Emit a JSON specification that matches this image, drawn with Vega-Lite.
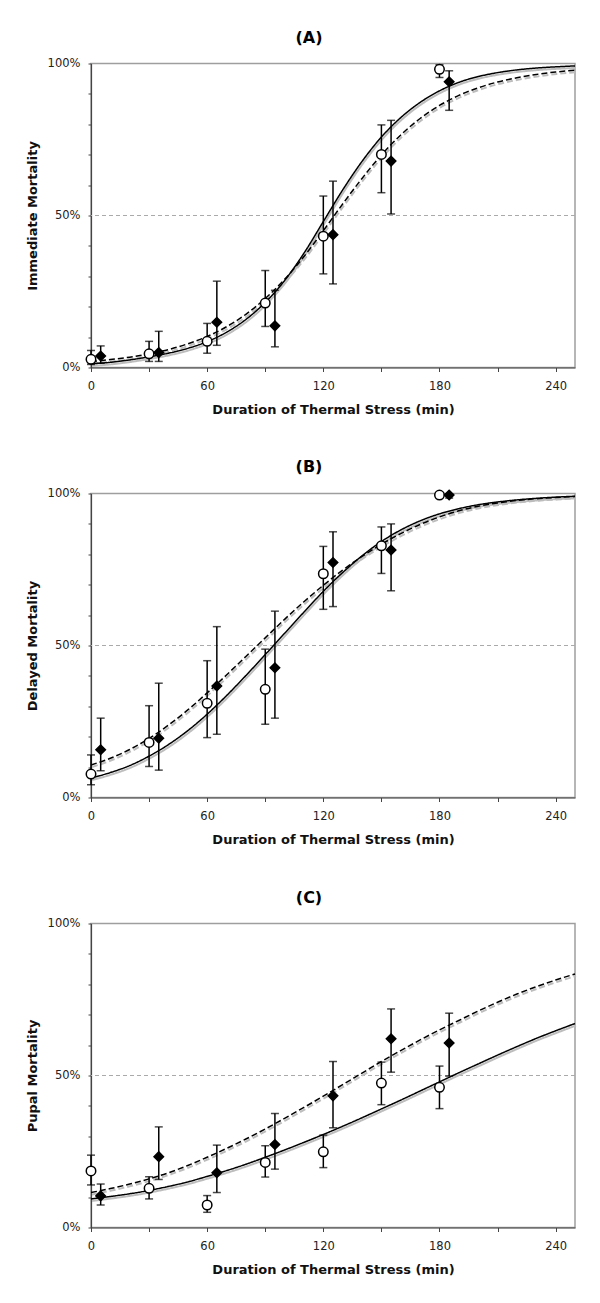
{
  "$schema": "https://vega.github.io/schema/vega-lite/v6.json",
  "padding": {"left": 25, "top": 28.5, "right": 20, "bottom": 10},
  "background": "white",
  "datasets": {
    "pts": [
      {"p":"A","g":"open","x":0,"y":2.7,"lo":1.0,"hi":5.6},
      {"p":"A","g":"open","x":30,"y":4.5,"lo":2.0,"hi":8.6},
      {"p":"A","g":"open","x":60,"y":8.6,"lo":4.7,"hi":14.5},
      {"p":"A","g":"open","x":90,"y":21.2,"lo":13.5,"hi":31.9},
      {"p":"A","g":"open","x":120,"y":43.2,"lo":30.8,"hi":56.4},
      {"p":"A","g":"open","x":150,"y":70.1,"lo":57.5,"hi":79.8},
      {"p":"A","g":"open","x":180,"y":98.1,"lo":95.4,"hi":99.6},
      {"p":"A","g":"filled","x":5,"y":3.8,"lo":1.4,"hi":7.1},
      {"p":"A","g":"filled","x":35,"y":4.9,"lo":2.0,"hi":11.9},
      {"p":"A","g":"filled","x":65,"y":14.9,"lo":7.3,"hi":28.4},
      {"p":"A","g":"filled","x":95,"y":13.7,"lo":6.8,"hi":25.4},
      {"p":"A","g":"filled","x":125,"y":43.7,"lo":27.5,"hi":61.3},
      {"p":"A","g":"filled","x":155,"y":67.9,"lo":50.5,"hi":81.3},
      {"p":"A","g":"filled","x":185,"y":94.0,"lo":84.6,"hi":97.6},
      {"p":"B","g":"open","x":0,"y":7.7,"lo":4.2,"hi":14.0},
      {"p":"B","g":"open","x":30,"y":18.1,"lo":10.2,"hi":30.2},
      {"p":"B","g":"open","x":60,"y":31.0,"lo":19.7,"hi":45.0},
      {"p":"B","g":"open","x":90,"y":35.6,"lo":24.1,"hi":48.8},
      {"p":"B","g":"open","x":120,"y":73.6,"lo":61.9,"hi":82.6},
      {"p":"B","g":"open","x":150,"y":82.8,"lo":73.7,"hi":89.0},
      {"p":"B","g":"open","x":180,"y":99.5,"lo":99.0,"hi":99.9},
      {"p":"B","g":"filled","x":5,"y":15.7,"lo":8.8,"hi":26.1},
      {"p":"B","g":"filled","x":35,"y":19.5,"lo":9.0,"hi":37.6},
      {"p":"B","g":"filled","x":65,"y":36.7,"lo":20.8,"hi":56.2},
      {"p":"B","g":"filled","x":95,"y":42.7,"lo":26.1,"hi":61.3},
      {"p":"B","g":"filled","x":125,"y":77.3,"lo":62.8,"hi":87.4},
      {"p":"B","g":"filled","x":155,"y":81.4,"lo":68.0,"hi":90.0},
      {"p":"B","g":"filled","x":185,"y":99.5,"lo":98.5,"hi":99.9},
      {"p":"C","g":"open","x":0,"y":18.6,"lo":14.0,"hi":23.8},
      {"p":"C","g":"open","x":30,"y":12.9,"lo":9.4,"hi":16.7},
      {"p":"C","g":"open","x":60,"y":7.4,"lo":5.0,"hi":10.5},
      {"p":"C","g":"open","x":90,"y":21.4,"lo":16.6,"hi":26.9},
      {"p":"C","g":"open","x":120,"y":24.9,"lo":19.7,"hi":30.4},
      {"p":"C","g":"open","x":150,"y":47.5,"lo":40.4,"hi":54.4},
      {"p":"C","g":"open","x":180,"y":46.1,"lo":39.1,"hi":53.1},
      {"p":"C","g":"filled","x":5,"y":10.4,"lo":7.4,"hi":14.3},
      {"p":"C","g":"filled","x":35,"y":23.3,"lo":15.8,"hi":33.1},
      {"p":"C","g":"filled","x":65,"y":18.0,"lo":11.5,"hi":27.1},
      {"p":"C","g":"filled","x":95,"y":27.3,"lo":19.2,"hi":37.5},
      {"p":"C","g":"filled","x":125,"y":43.3,"lo":32.8,"hi":54.6},
      {"p":"C","g":"filled","x":155,"y":62.1,"lo":51.1,"hi":71.9},
      {"p":"C","g":"filled","x":185,"y":60.7,"lo":49.8,"hi":70.5}
    ],
    "curves": [
      {"p":"A","m":"solid","x":0,"y":1.2},{"p":"A","m":"solid","x":10,"y":1.7},{"p":"A","m":"solid","x":20,"y":2.5},{"p":"A","m":"solid","x":30,"y":3.5},{"p":"A","m":"solid","x":40,"y":4.7},{"p":"A","m":"solid","x":50,"y":6.3},{"p":"A","m":"solid","x":60,"y":8.5},{"p":"A","m":"solid","x":70,"y":11.6},{"p":"A","m":"solid","x":80,"y":15.8},{"p":"A","m":"solid","x":90,"y":21.4},{"p":"A","m":"solid","x":100,"y":28.6},{"p":"A","m":"solid","x":110,"y":37.6},{"p":"A","m":"solid","x":120,"y":48.0},{"p":"A","m":"solid","x":130,"y":58.4},{"p":"A","m":"solid","x":140,"y":67.8},{"p":"A","m":"solid","x":150,"y":75.8},{"p":"A","m":"solid","x":160,"y":82.2},{"p":"A","m":"solid","x":170,"y":87.2},{"p":"A","m":"solid","x":180,"y":91.0},{"p":"A","m":"solid","x":190,"y":93.8},{"p":"A","m":"solid","x":200,"y":95.7},{"p":"A","m":"solid","x":210,"y":97.0},{"p":"A","m":"solid","x":220,"y":97.9},{"p":"A","m":"solid","x":230,"y":98.5},{"p":"A","m":"solid","x":240,"y":98.9},{"p":"A","m":"solid","x":250,"y":99.2},
      {"p":"A","m":"dashed","x":0,"y":2.0},{"p":"A","m":"dashed","x":10,"y":2.6},{"p":"A","m":"dashed","x":20,"y":3.4},{"p":"A","m":"dashed","x":30,"y":4.5},{"p":"A","m":"dashed","x":40,"y":5.9},{"p":"A","m":"dashed","x":50,"y":7.8},{"p":"A","m":"dashed","x":60,"y":10.2},{"p":"A","m":"dashed","x":70,"y":13.4},{"p":"A","m":"dashed","x":80,"y":17.5},{"p":"A","m":"dashed","x":90,"y":22.7},{"p":"A","m":"dashed","x":100,"y":29.0},{"p":"A","m":"dashed","x":110,"y":36.5},{"p":"A","m":"dashed","x":120,"y":45.0},{"p":"A","m":"dashed","x":130,"y":53.8},{"p":"A","m":"dashed","x":140,"y":62.2},{"p":"A","m":"dashed","x":150,"y":69.9},{"p":"A","m":"dashed","x":160,"y":76.5},{"p":"A","m":"dashed","x":170,"y":81.9},{"p":"A","m":"dashed","x":180,"y":86.2},{"p":"A","m":"dashed","x":190,"y":89.5},{"p":"A","m":"dashed","x":200,"y":92.0},{"p":"A","m":"dashed","x":210,"y":93.9},{"p":"A","m":"dashed","x":220,"y":95.3},{"p":"A","m":"dashed","x":230,"y":96.4},{"p":"A","m":"dashed","x":240,"y":97.2},{"p":"A","m":"dashed","x":250,"y":97.8},
      {"p":"B","m":"solid","x":0,"y":6.4},{"p":"B","m":"solid","x":10,"y":8.2},{"p":"B","m":"solid","x":20,"y":10.5},{"p":"B","m":"solid","x":30,"y":13.6},{"p":"B","m":"solid","x":40,"y":17.4},{"p":"B","m":"solid","x":50,"y":22.0},{"p":"B","m":"solid","x":60,"y":27.4},{"p":"B","m":"solid","x":70,"y":33.5},{"p":"B","m":"solid","x":80,"y":40.1},{"p":"B","m":"solid","x":90,"y":47.0},{"p":"B","m":"solid","x":100,"y":54.0},{"p":"B","m":"solid","x":110,"y":61.0},{"p":"B","m":"solid","x":120,"y":67.8},{"p":"B","m":"solid","x":130,"y":74.0},{"p":"B","m":"solid","x":140,"y":79.5},{"p":"B","m":"solid","x":150,"y":84.2},{"p":"B","m":"solid","x":160,"y":88.0},{"p":"B","m":"solid","x":170,"y":91.0},{"p":"B","m":"solid","x":180,"y":93.3},{"p":"B","m":"solid","x":190,"y":95.0},{"p":"B","m":"solid","x":200,"y":96.3},{"p":"B","m":"solid","x":210,"y":97.2},{"p":"B","m":"solid","x":220,"y":97.9},{"p":"B","m":"solid","x":230,"y":98.4},{"p":"B","m":"solid","x":240,"y":98.8},{"p":"B","m":"solid","x":250,"y":99.1},
      {"p":"B","m":"dashed","x":0,"y":10.7},{"p":"B","m":"dashed","x":10,"y":12.9},{"p":"B","m":"dashed","x":20,"y":15.8},{"p":"B","m":"dashed","x":30,"y":19.4},{"p":"B","m":"dashed","x":40,"y":23.8},{"p":"B","m":"dashed","x":50,"y":28.8},{"p":"B","m":"dashed","x":60,"y":34.4},{"p":"B","m":"dashed","x":70,"y":40.3},{"p":"B","m":"dashed","x":80,"y":46.4},{"p":"B","m":"dashed","x":90,"y":52.5},{"p":"B","m":"dashed","x":100,"y":58.6},{"p":"B","m":"dashed","x":110,"y":64.4},{"p":"B","m":"dashed","x":120,"y":69.8},{"p":"B","m":"dashed","x":130,"y":74.8},{"p":"B","m":"dashed","x":140,"y":79.3},{"p":"B","m":"dashed","x":150,"y":83.3},{"p":"B","m":"dashed","x":160,"y":86.8},{"p":"B","m":"dashed","x":170,"y":89.8},{"p":"B","m":"dashed","x":180,"y":92.3},{"p":"B","m":"dashed","x":190,"y":94.3},{"p":"B","m":"dashed","x":200,"y":95.8},{"p":"B","m":"dashed","x":210,"y":96.9},{"p":"B","m":"dashed","x":220,"y":97.7},{"p":"B","m":"dashed","x":230,"y":98.3},{"p":"B","m":"dashed","x":240,"y":98.7},{"p":"B","m":"dashed","x":250,"y":99.0},
      {"p":"C","m":"solid","x":0,"y":9.4},{"p":"C","m":"solid","x":10,"y":10.2},{"p":"C","m":"solid","x":20,"y":11.1},{"p":"C","m":"solid","x":30,"y":12.2},{"p":"C","m":"solid","x":40,"y":13.5},{"p":"C","m":"solid","x":50,"y":15.0},{"p":"C","m":"solid","x":60,"y":16.8},{"p":"C","m":"solid","x":70,"y":18.7},{"p":"C","m":"solid","x":80,"y":20.8},{"p":"C","m":"solid","x":90,"y":23.1},{"p":"C","m":"solid","x":100,"y":25.5},{"p":"C","m":"solid","x":110,"y":28.0},{"p":"C","m":"solid","x":120,"y":30.6},{"p":"C","m":"solid","x":130,"y":33.3},{"p":"C","m":"solid","x":140,"y":36.1},{"p":"C","m":"solid","x":150,"y":39.0},{"p":"C","m":"solid","x":160,"y":41.9},{"p":"C","m":"solid","x":170,"y":44.9},{"p":"C","m":"solid","x":180,"y":47.9},{"p":"C","m":"solid","x":190,"y":50.9},{"p":"C","m":"solid","x":200,"y":53.8},{"p":"C","m":"solid","x":210,"y":56.7},{"p":"C","m":"solid","x":220,"y":59.5},{"p":"C","m":"solid","x":230,"y":62.2},{"p":"C","m":"solid","x":240,"y":64.7},{"p":"C","m":"solid","x":250,"y":67.1},
      {"p":"C","m":"dashed","x":0,"y":11.5},{"p":"C","m":"dashed","x":10,"y":12.8},{"p":"C","m":"dashed","x":20,"y":14.3},{"p":"C","m":"dashed","x":30,"y":16.0},{"p":"C","m":"dashed","x":40,"y":18.0},{"p":"C","m":"dashed","x":50,"y":20.4},{"p":"C","m":"dashed","x":60,"y":23.1},{"p":"C","m":"dashed","x":70,"y":26.0},{"p":"C","m":"dashed","x":80,"y":29.1},{"p":"C","m":"dashed","x":90,"y":32.4},{"p":"C","m":"dashed","x":100,"y":35.9},{"p":"C","m":"dashed","x":110,"y":39.5},{"p":"C","m":"dashed","x":120,"y":43.2},{"p":"C","m":"dashed","x":130,"y":47.0},{"p":"C","m":"dashed","x":140,"y":50.8},{"p":"C","m":"dashed","x":150,"y":54.6},{"p":"C","m":"dashed","x":160,"y":58.2},{"p":"C","m":"dashed","x":170,"y":61.7},{"p":"C","m":"dashed","x":180,"y":65.0},{"p":"C","m":"dashed","x":190,"y":68.1},{"p":"C","m":"dashed","x":200,"y":71.2},{"p":"C","m":"dashed","x":210,"y":74.1},{"p":"C","m":"dashed","x":220,"y":76.8},{"p":"C","m":"dashed","x":230,"y":79.2},{"p":"C","m":"dashed","x":240,"y":81.4},{"p":"C","m":"dashed","x":250,"y":83.4}
    ]
  },
  "vconcat": [
    {
      "width": 484, "height": 304,
      "title": {"text": "(A)"},
      "layer": [
        {"data": {"values": [{}]}, "mark": {"type": "rule", "color": "#aaaaaa", "strokeWidth": 1, "strokeDash": [4, 3]},
         "encoding": {"y": {"datum": 50, "type": "quantitative", "scale": {"domain": [0, 100], "nice": false}, "axis": {"title": "Immediate Mortality", "values": [0,10,20,30,40,50,60,70,80,90,100], "labelExpr": "datum.value % 50 == 0 ? datum.value + '%' : ''"}}}},
        {"data": {"name": "curves"}, "transform": [{"filter": "datum.p == 'A'"}],
         "mark": {"type": "line", "color": "#bdbdbd", "strokeWidth": 2, "xOffset": 1, "yOffset": 2, "interpolate": "monotone"},
         "encoding": {
           "x": {"field": "x", "type": "quantitative", "scale": {"domain": [0, 250], "nice": false}, "axis": {"title": "Duration of Thermal Stress (min)", "values": [0,30,60,90,120,150,180,210,240], "labelExpr": "datum.value % 60 == 0 ? datum.label : ''"}},
           "y": {"field": "y", "type": "quantitative", "axis": {"title": "Immediate Mortality", "values": [0,10,20,30,40,50,60,70,80,90,100], "labelExpr": "datum.value % 50 == 0 ? datum.value + '%' : ''"}},
           "detail": {"field": "m"},
           "strokeDash": {"field": "m", "type": "nominal", "scale": {"domain": ["solid", "dashed"], "range": [[1, 0], [6, 3]]}, "legend": null}}},
        {"data": {"name": "curves"}, "transform": [{"filter": "datum.p == 'A'"}],
         "mark": {"type": "line", "color": "#000000", "strokeWidth": 1.5, "interpolate": "monotone"},
         "encoding": {
           "x": {"field": "x", "type": "quantitative", "axis": {"title": "Duration of Thermal Stress (min)", "values": [0,30,60,90,120,150,180,210,240], "labelExpr": "datum.value % 60 == 0 ? datum.label : ''"}},
           "y": {"field": "y", "type": "quantitative", "axis": {"title": "Immediate Mortality", "values": [0,10,20,30,40,50,60,70,80,90,100], "labelExpr": "datum.value % 50 == 0 ? datum.value + '%' : ''"}},
           "detail": {"field": "m"},
           "strokeDash": {"field": "m", "type": "nominal", "scale": {"domain": ["solid", "dashed"], "range": [[1, 0], [6, 3]]}, "legend": null}}},
        {"data": {"name": "pts"}, "transform": [{"filter": "datum.p == 'A'"}],
         "mark": {"type": "errorbar", "ticks": true, "size": 8, "thickness": 1.5, "color": "#000000"},
         "encoding": {
           "x": {"field": "x", "type": "quantitative", "axis": {"title": "Duration of Thermal Stress (min)", "values": [0,30,60,90,120,150,180,210,240], "labelExpr": "datum.value % 60 == 0 ? datum.label : ''"}},
           "y": {"field": "lo", "type": "quantitative", "axis": {"title": "Immediate Mortality", "values": [0,10,20,30,40,50,60,70,80,90,100], "labelExpr": "datum.value % 50 == 0 ? datum.value + '%' : ''"}},
           "y2": {"field": "hi"}}},
        {"data": {"name": "pts"}, "transform": [{"filter": "datum.p == 'A'"}],
         "mark": {"type": "point", "filled": false, "stroke": "#000000", "strokeWidth": 1.5, "opacity": 1, "size": 90},
         "encoding": {
           "x": {"field": "x", "type": "quantitative", "axis": {"title": "Duration of Thermal Stress (min)", "values": [0,30,60,90,120,150,180,210,240], "labelExpr": "datum.value % 60 == 0 ? datum.label : ''"}},
           "y": {"field": "y", "type": "quantitative", "axis": {"title": "Immediate Mortality", "values": [0,10,20,30,40,50,60,70,80,90,100], "labelExpr": "datum.value % 50 == 0 ? datum.value + '%' : ''"}},
           "shape": {"field": "g", "type": "nominal", "scale": {"domain": ["open", "filled"], "range": ["circle", "diamond"]}, "legend": null},
           "fill": {"field": "g", "type": "nominal", "scale": {"domain": ["open", "filled"], "range": ["#ffffff", "#000000"]}, "legend": null}}}
      ]
    },
    {
      "width": 484, "height": 304,
      "title": {"text": "(B)"},
      "layer": [
        {"data": {"values": [{}]}, "mark": {"type": "rule", "color": "#aaaaaa", "strokeWidth": 1, "strokeDash": [4, 3]},
         "encoding": {"y": {"datum": 50, "type": "quantitative", "scale": {"domain": [0, 100], "nice": false}, "axis": {"title": "Delayed Mortality", "values": [0,10,20,30,40,50,60,70,80,90,100], "labelExpr": "datum.value % 50 == 0 ? datum.value + '%' : ''"}}}},
        {"data": {"name": "curves"}, "transform": [{"filter": "datum.p == 'B'"}],
         "mark": {"type": "line", "color": "#bdbdbd", "strokeWidth": 2, "xOffset": 1, "yOffset": 2, "interpolate": "monotone"},
         "encoding": {
           "x": {"field": "x", "type": "quantitative", "scale": {"domain": [0, 250], "nice": false}, "axis": {"title": "Duration of Thermal Stress (min)", "values": [0,30,60,90,120,150,180,210,240], "labelExpr": "datum.value % 60 == 0 ? datum.label : ''"}},
           "y": {"field": "y", "type": "quantitative", "axis": {"title": "Delayed Mortality", "values": [0,10,20,30,40,50,60,70,80,90,100], "labelExpr": "datum.value % 50 == 0 ? datum.value + '%' : ''"}},
           "detail": {"field": "m"},
           "strokeDash": {"field": "m", "type": "nominal", "scale": {"domain": ["solid", "dashed"], "range": [[1, 0], [6, 3]]}, "legend": null}}},
        {"data": {"name": "curves"}, "transform": [{"filter": "datum.p == 'B'"}],
         "mark": {"type": "line", "color": "#000000", "strokeWidth": 1.5, "interpolate": "monotone"},
         "encoding": {
           "x": {"field": "x", "type": "quantitative", "axis": {"title": "Duration of Thermal Stress (min)", "values": [0,30,60,90,120,150,180,210,240], "labelExpr": "datum.value % 60 == 0 ? datum.label : ''"}},
           "y": {"field": "y", "type": "quantitative", "axis": {"title": "Delayed Mortality", "values": [0,10,20,30,40,50,60,70,80,90,100], "labelExpr": "datum.value % 50 == 0 ? datum.value + '%' : ''"}},
           "detail": {"field": "m"},
           "strokeDash": {"field": "m", "type": "nominal", "scale": {"domain": ["solid", "dashed"], "range": [[1, 0], [6, 3]]}, "legend": null}}},
        {"data": {"name": "pts"}, "transform": [{"filter": "datum.p == 'B'"}],
         "mark": {"type": "errorbar", "ticks": true, "size": 8, "thickness": 1.5, "color": "#000000"},
         "encoding": {
           "x": {"field": "x", "type": "quantitative", "axis": {"title": "Duration of Thermal Stress (min)", "values": [0,30,60,90,120,150,180,210,240], "labelExpr": "datum.value % 60 == 0 ? datum.label : ''"}},
           "y": {"field": "lo", "type": "quantitative", "axis": {"title": "Delayed Mortality", "values": [0,10,20,30,40,50,60,70,80,90,100], "labelExpr": "datum.value % 50 == 0 ? datum.value + '%' : ''"}},
           "y2": {"field": "hi"}}},
        {"data": {"name": "pts"}, "transform": [{"filter": "datum.p == 'B'"}],
         "mark": {"type": "point", "filled": false, "stroke": "#000000", "strokeWidth": 1.5, "opacity": 1, "size": 90},
         "encoding": {
           "x": {"field": "x", "type": "quantitative", "axis": {"title": "Duration of Thermal Stress (min)", "values": [0,30,60,90,120,150,180,210,240], "labelExpr": "datum.value % 60 == 0 ? datum.label : ''"}},
           "y": {"field": "y", "type": "quantitative", "axis": {"title": "Delayed Mortality", "values": [0,10,20,30,40,50,60,70,80,90,100], "labelExpr": "datum.value % 50 == 0 ? datum.value + '%' : ''"}},
           "shape": {"field": "g", "type": "nominal", "scale": {"domain": ["open", "filled"], "range": ["circle", "diamond"]}, "legend": null},
           "fill": {"field": "g", "type": "nominal", "scale": {"domain": ["open", "filled"], "range": ["#ffffff", "#000000"]}, "legend": null}}}
      ]
    },
    {
      "width": 484, "height": 304,
      "title": {"text": "(C)"},
      "layer": [
        {"data": {"values": [{}]}, "mark": {"type": "rule", "color": "#aaaaaa", "strokeWidth": 1, "strokeDash": [4, 3]},
         "encoding": {"y": {"datum": 50, "type": "quantitative", "scale": {"domain": [0, 100], "nice": false}, "axis": {"title": "Pupal Mortality", "values": [0,10,20,30,40,50,60,70,80,90,100], "labelExpr": "datum.value % 50 == 0 ? datum.value + '%' : ''"}}}},
        {"data": {"name": "curves"}, "transform": [{"filter": "datum.p == 'C'"}],
         "mark": {"type": "line", "color": "#bdbdbd", "strokeWidth": 2, "xOffset": 1, "yOffset": 2, "interpolate": "monotone"},
         "encoding": {
           "x": {"field": "x", "type": "quantitative", "scale": {"domain": [0, 250], "nice": false}, "axis": {"title": "Duration of Thermal Stress (min)", "values": [0,30,60,90,120,150,180,210,240], "labelExpr": "datum.value % 60 == 0 ? datum.label : ''"}},
           "y": {"field": "y", "type": "quantitative", "axis": {"title": "Pupal Mortality", "values": [0,10,20,30,40,50,60,70,80,90,100], "labelExpr": "datum.value % 50 == 0 ? datum.value + '%' : ''"}},
           "detail": {"field": "m"},
           "strokeDash": {"field": "m", "type": "nominal", "scale": {"domain": ["solid", "dashed"], "range": [[1, 0], [6, 3]]}, "legend": null}}},
        {"data": {"name": "curves"}, "transform": [{"filter": "datum.p == 'C'"}],
         "mark": {"type": "line", "color": "#000000", "strokeWidth": 1.5, "interpolate": "monotone"},
         "encoding": {
           "x": {"field": "x", "type": "quantitative", "axis": {"title": "Duration of Thermal Stress (min)", "values": [0,30,60,90,120,150,180,210,240], "labelExpr": "datum.value % 60 == 0 ? datum.label : ''"}},
           "y": {"field": "y", "type": "quantitative", "axis": {"title": "Pupal Mortality", "values": [0,10,20,30,40,50,60,70,80,90,100], "labelExpr": "datum.value % 50 == 0 ? datum.value + '%' : ''"}},
           "detail": {"field": "m"},
           "strokeDash": {"field": "m", "type": "nominal", "scale": {"domain": ["solid", "dashed"], "range": [[1, 0], [6, 3]]}, "legend": null}}},
        {"data": {"name": "pts"}, "transform": [{"filter": "datum.p == 'C'"}],
         "mark": {"type": "errorbar", "ticks": true, "size": 8, "thickness": 1.5, "color": "#000000"},
         "encoding": {
           "x": {"field": "x", "type": "quantitative", "axis": {"title": "Duration of Thermal Stress (min)", "values": [0,30,60,90,120,150,180,210,240], "labelExpr": "datum.value % 60 == 0 ? datum.label : ''"}},
           "y": {"field": "lo", "type": "quantitative", "axis": {"title": "Pupal Mortality", "values": [0,10,20,30,40,50,60,70,80,90,100], "labelExpr": "datum.value % 50 == 0 ? datum.value + '%' : ''"}},
           "y2": {"field": "hi"}}},
        {"data": {"name": "pts"}, "transform": [{"filter": "datum.p == 'C'"}],
         "mark": {"type": "point", "filled": false, "stroke": "#000000", "strokeWidth": 1.5, "opacity": 1, "size": 90},
         "encoding": {
           "x": {"field": "x", "type": "quantitative", "axis": {"title": "Duration of Thermal Stress (min)", "values": [0,30,60,90,120,150,180,210,240], "labelExpr": "datum.value % 60 == 0 ? datum.label : ''"}},
           "y": {"field": "y", "type": "quantitative", "axis": {"title": "Pupal Mortality", "values": [0,10,20,30,40,50,60,70,80,90,100], "labelExpr": "datum.value % 50 == 0 ? datum.value + '%' : ''"}},
           "shape": {"field": "g", "type": "nominal", "scale": {"domain": ["open", "filled"], "range": ["circle", "diamond"]}, "legend": null},
           "fill": {"field": "g", "type": "nominal", "scale": {"domain": ["open", "filled"], "range": ["#ffffff", "#000000"]}, "legend": null}}}
      ]
    }
  ],
  "config": {
    "font": "DejaVu Sans",
    "concat": {"spacing": 41},
    "view": {"stroke": "#9e9e9e", "strokeWidth": 1.5},
    "axis": {"grid": false, "labelFont": "DejaVu Sans", "labelFontSize": 11.5, "labelColor": "#222222", "titleFont": "DejaVu Sans", "titleFontSize": 13, "titleFontWeight": "bold", "titleColor": "#111111", "domainColor": "#444444", "tickColor": "#444444", "domainWidth": 1.2, "tickWidth": 1, "labelFlush": false, "labelOverlap": false},
    "axisX": {"tickSize": 4, "labelPadding": 9, "titlePadding": 11},
    "axisY": {"tickSize": 3, "labelPadding": 8, "titlePadding": 8},
    "title": {"font": "DejaVu Sans", "fontSize": 16, "fontWeight": "bold", "color": "#000000", "offset": 12, "anchor": "middle", "dx": -24}
  }
}
